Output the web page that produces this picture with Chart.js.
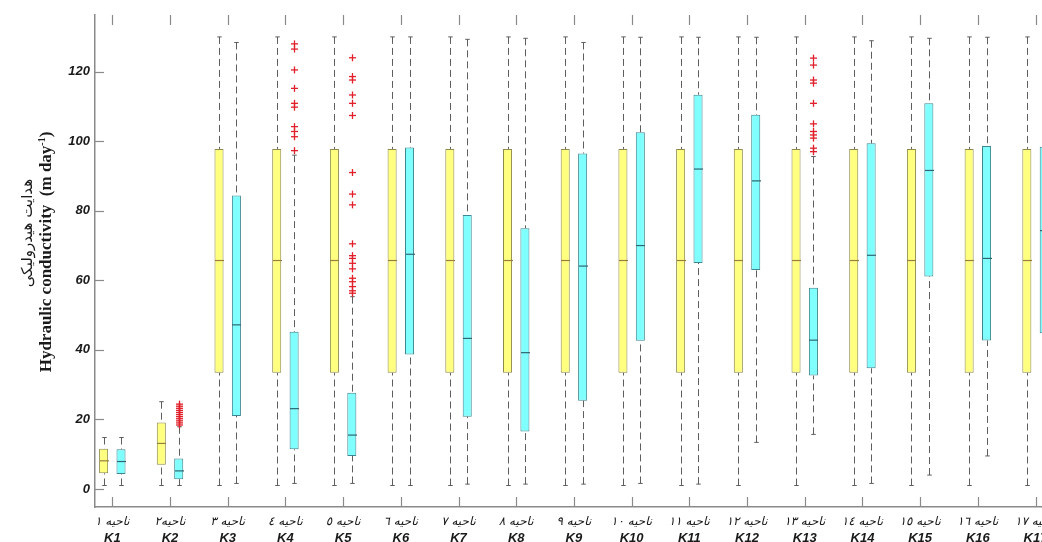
<!DOCTYPE html>
<html>
<head>
<meta charset="utf-8">
<script src="https://cdn.jsdelivr.net/npm/chart.js@4.4.0/dist/chart.umd.min.js"></script>
<style>
html, body { margin: 0; padding: 0; background: #fff; overflow: hidden; }
#wrap { width: 1042px; height: 542px; position: relative; }
</style>
</head>
<body>
<div id="wrap"><canvas id="chart"></canvas></div>
<script>
var categories = ['K1', 'K2', 'K3', 'K4', 'K5', 'K6', 'K7', 'K8', 'K9', 'K10', 'K11', 'K12', 'K13', 'K14', 'K15', 'K16', 'K17'];
var regionLabels = ['ناحیه ١', 'ناحیه٢', 'ناحیه ٣', 'ناحیه ٤', 'ناحیه ٥', 'ناحیه ٦', 'ناحیه ٧', 'ناحیه ٨', 'ناحیه ٩',
    'ناحیه ١٠', 'ناحیه ١١', 'ناحیه ١٢', 'ناحیه ١٣', 'ناحیه ١٤', 'ناحیه ١٥', 'ناحیه ١٦', 'ناحیه ١٧'];

// yellow boxes
var minA = [1, 1, 1, 1, 1, 1, 1, 1, 1, 1, 1, 1, 1, 1, 1, 1, 1];
var q1A = [4.5, 7.0, 33.4, 33.4, 33.4, 33.4, 33.4, 33.4, 33.4, 33.4, 33.4, 33.4, 33.4, 33.4, 33.4, 33.4, 33.4];
var medA = [8.1, 13.1, 65.7, 65.7, 65.7, 65.7, 65.7, 65.7, 65.7, 65.7, 65.7, 65.7, 65.7, 65.7, 65.7, 65.7, 65.7];
var q3A = [11.6, 19.1, 97.8, 97.8, 97.8, 97.8, 97.8, 97.8, 97.8, 97.8, 97.8, 97.8, 97.8, 97.8, 97.8, 97.8, 97.8];
var maxA = [14.8, 25.1, 130, 130, 130, 130, 130, 130, 130, 130, 130, 130, 130, 130, 130, 130, 130];
var outA = [[], [], [], [], [], [], [], [], [], [], [], [], [], [], [], [], []];

// cyan boxes
var minB = [1, 1, 1.6, 1.6, 1.6, 1, 1.4, 1.4, 1.4, 1.6, 1.4, 13.4, 15.7, 1.6, 4.0, 9.5, 1];
var q1B = [4.3, 2.8, 21.0, 11.4, 9.5, 38.7, 20.8, 16.5, 25.4, 42.6, 65.0, 63.0, 32.6, 34.7, 61.1, 42.7, 44.8];
var medB = [7.9, 5.2, 47.2, 23.1, 15.5, 67.5, 43.3, 39.2, 64.1, 70.0, 92.0, 88.6, 42.8, 67.2, 91.6, 66.3, 74.3];
var q3B = [11.4, 8.8, 84.4, 45.2, 27.7, 98.2, 78.8, 75.0, 96.5, 102.6, 113.4, 107.6, 57.9, 99.4, 110.9, 98.6, 98.4];
var maxB = [14.8, 17.9, 128.4, 96.0, 55.3, 130, 129.3, 129.6, 128.4, 129.9, 129.9, 129.9, 95.6, 128.9, 129.6, 129.9, 130];
var outB = [
    [],
    [18.4, 19.0, 19.6, 20.2, 20.8, 21.4, 22.0, 22.6, 23.2, 23.8, 24.4],
    [],
    [97.3, 101.3, 102.8, 104.2, 109.8, 110.9, 115.2, 120.5, 126.5, 128],
    [56.3, 57.0, 58.2, 59.6, 60.6, 63.3, 64.9, 66.3, 67.1, 70.5, 81.7, 84.8, 91.0, 107.4, 110.9, 113.3, 117.6, 118.6, 124.0],
    [], [], [], [], [], [], [],
    [97.0, 98.0, 100.9, 101.8, 102.8, 105.0, 110.9, 116.7, 117.6, 121.9, 123.9],
    [], [], [], []
];

var series = [
    { min: minA, q1: q1A, med: medA, q3: q3A, max: maxA, out: outA, fill: '#ffff80', edge: '#8f8a4a', median: '#9a7d3a' },
    { min: minB, q1: q1B, med: medB, q3: q3B, max: maxB, out: outB, fill: '#80ffff', edge: '#3d8790', median: '#2e6670' }
];

var axisColor = '#8a8a8a';

function seg(ctx, x1, y1, x2, y2) {
    ctx.beginPath();
    ctx.moveTo(x1, y1);
    ctx.lineTo(x2, y2);
    ctx.stroke();
}

// whiskers, medians and outliers drawn on top of the floating bars
var boxParts = {
    id: 'boxParts',
    afterDatasetsDraw: function(chart) {
        var ctx = chart.ctx, y = chart.scales.y, area = chart.chartArea;
        ctx.save();
        ctx.beginPath();
        ctx.rect(area.left, area.top - 2, area.right - area.left, area.bottom - area.top + 4);
        ctx.clip();
        series.forEach(function(s, si) {
            var meta = chart.getDatasetMeta(si);
            meta.data.forEach(function(bar, i) {
                var cx = Math.round(bar.x) + 0.5, half = bar.width / 2;
                var yMax = y.getPixelForValue(s.max[i]), yMin = y.getPixelForValue(s.min[i]);
                var yQ1 = y.getPixelForValue(s.q1[i]), yQ3 = y.getPixelForValue(s.q3[i]);
                ctx.strokeStyle = '#5e5e5e';
                ctx.lineWidth = 1;
                ctx.setLineDash([7, 4]);
                seg(ctx, cx, yMax, cx, yQ3);
                seg(ctx, cx, yMin, cx, yQ1);
                ctx.setLineDash([]);
                seg(ctx, cx - half * 0.5, yMax, cx + half * 0.5, yMax);
                seg(ctx, cx - half * 0.5, yMin, cx + half * 0.5, yMin);

                ctx.strokeStyle = s.median;
                ctx.lineWidth = 1.2;
                var yMed = y.getPixelForValue(s.med[i]);
                seg(ctx, cx - half, yMed, cx + half, yMed);

                ctx.strokeStyle = '#e0202a';
                ctx.lineWidth = 1.3;
                s.out[i].forEach(function(v) {
                    var py = y.getPixelForValue(v);
                    seg(ctx, cx - 3.5, py, cx + 3.5, py);
                    seg(ctx, cx, py - 3.5, cx, py + 3.5);
                });
            });
        });
        ctx.restore();
    }
};

// inward tick marks, two-line category labels and the y axis title
var axisDecor = {
    id: 'axisDecor',
    afterDraw: function(chart) {
        var ctx = chart.ctx, x = chart.scales.x, y = chart.scales.y, area = chart.chartArea;
        ctx.save();
        ctx.strokeStyle = axisColor;
        ctx.lineWidth = 1.2;
        y.ticks.forEach(function(t) {
            var py = Math.round(y.getPixelForValue(t.value)) + 0.5;
            seg(ctx, area.left, py, area.left + 9, py);
        });
        categories.forEach(function(c, i) {
            var px = Math.round(x.getPixelForValue(i + 1)) + 0.5;
            seg(ctx, px, area.bottom, px, area.bottom - 10);
            seg(ctx, px, area.top, px, area.top + 10);
        });

        ctx.fillStyle = '#1a1a1a';
        ctx.textAlign = 'center';
        ctx.textBaseline = 'middle';
        categories.forEach(function(c, i) {
            var px = x.getPixelForValue(i + 1);
            ctx.font = 'italic 12px "DejaVu Sans"';
            ctx.fillText(regionLabels[i], px, area.bottom + 15);
            ctx.font = 'italic bold 13px "Liberation Sans", Arial';
            ctx.fillText(c, px, area.bottom + 31);
        });

        // y title, two lines
        ctx.save();
        ctx.translate(28, 233);
        ctx.rotate(-Math.PI / 2);
        ctx.font = '15px "DejaVu Sans"';
        ctx.fillText('هدایت هیدرولیکی', 0, 0);
        ctx.restore();

        ctx.save();
        ctx.translate(47, 252);
        ctx.rotate(-Math.PI / 2);
        var main = 'Hydraulic conductivity  (m day', sup = '-1', close = ')';
        var big = 'bold 17px "Liberation Serif", "Times New Roman"', small = 'bold 10px "Liberation Serif", "Times New Roman"';
        ctx.font = big;
        var w1 = ctx.measureText(main).width, w3 = ctx.measureText(close).width;
        ctx.font = small;
        var w2 = ctx.measureText(sup).width;
        var start = -(w1 + w2 + w3) / 2;
        ctx.textAlign = 'left';
        ctx.font = big;
        ctx.fillText(main, start, 0);
        ctx.font = small;
        ctx.fillText(sup, start + w1, -5);
        ctx.font = big;
        ctx.fillText(close, start + w1 + w2, 0);
        ctx.restore();
        ctx.restore();
    }
};

var ctx = document.getElementById('chart').getContext('2d');
new Chart(ctx, {
    type: 'bar',
    data: {
        datasets: series.map(function(s) {
            return {
                data: categories.map(function(c, i) { return { x: i + 1, y: [s.q1[i], s.q3[i]] }; }),
                backgroundColor: s.fill,
                borderColor: s.edge,
                borderWidth: 1,
                borderSkipped: false,
                categoryPercentage: 0.603,
                barPercentage: 0.52
            };
        })
    },
    options: {
        responsive: true,
        maintainAspectRatio: false,
        animation: false,
        layout: { padding: { top: 15, right: 0, bottom: 0, left: 0 } },
        plugins: { legend: { display: false }, tooltip: { enabled: false } },
        scales: {
            x: {
                type: 'linear',
                offset: false,
                min: 0.7,
                max: 17.112,
                grid: { display: false, drawTicks: false, offset: false },
                border: { color: axisColor, width: 1.5 },
                ticks: { display: false, stepSize: 1, includeBounds: false },
                afterFit: function(s) { s.height = 35; s.paddingLeft = 0; s.paddingRight = 0; }
            },
            y: {
                min: -5.18,
                max: 136.3,
                grid: { display: false, drawTicks: false },
                border: { color: axisColor, width: 1.5 },
                ticks: {
                    stepSize: 20,
                    includeBounds: false,
                    padding: 5,
                    color: '#1a1a1a',
                    font: { family: '"Liberation Sans", Arial', size: 13, weight: 'bold', style: 'italic' }
                },
                afterFit: function(s) { s.width = 95; s.paddingTop = 0; s.paddingBottom = 0; }
            }
        }
    },
    plugins: [boxParts, axisDecor]
});
</script>
</body>
</html>
